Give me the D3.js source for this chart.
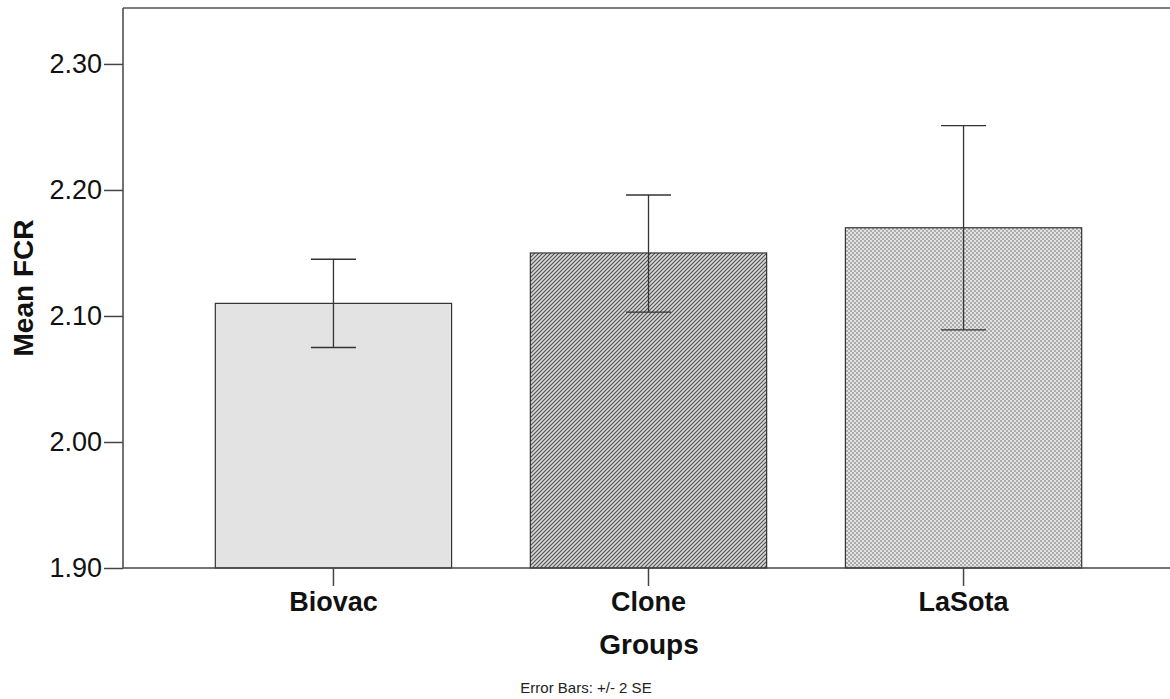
<!DOCTYPE html>
<html>
<head>
<meta charset="utf-8">
<script src="https://cdn.jsdelivr.net/npm/d3@7"></script>
<style>
  body { margin: 0; background: #fff; }
  svg { display: block; font-family: "Liberation Sans", Arial, sans-serif; }
</style>
</head>
<body>
<svg id="chart" width="1170" height="699"></svg>
<script>
// Mean FCR per vaccine group with +/- 2 SE error bars
const groups = ["Biovac", "Clone", "LaSota"];
const meanFCR = [2.11, 2.15, 2.17];
const errLow = [2.075, 2.103, 2.089];
const errHigh = [2.145, 2.196, 2.251];
const yTicks = [1.90, 2.00, 2.10, 2.20, 2.30];

const svg = d3.select("#chart");
const margin = { left: 123, top: 8, right: -4, bottom: 131 };
const W = 1170, H = 699;
const x0 = margin.left, x1 = W - margin.right;
const yTop = margin.top, yBot = H - margin.bottom;

const x = d3.scaleBand().domain(groups).range([x0, x1])
  .paddingInner(0.25).paddingOuter(0.293);
const y = d3.scaleLinear().domain([1.90, 2.3444]).range([yBot, yTop]);

// Fill patterns
const defs = svg.append("defs");
const hatch = defs.append("pattern").attr("id", "hatch")
  .attr("patternUnits", "userSpaceOnUse").attr("width", 4).attr("height", 4);
hatch.append("rect").attr("width", 4).attr("height", 4).attr("fill", "#dadada");
hatch.append("path").attr("d", "M-1,1 l2,-2 M0,4 l4,-4 M3,5 l2,-2")
  .attr("stroke", "#505050").attr("stroke-width", 1.15);

const dots = defs.append("pattern").attr("id", "dots")
  .attr("patternUnits", "userSpaceOnUse").attr("width", 4).attr("height", 4);
dots.append("rect").attr("width", 4).attr("height", 4).attr("fill", "#e4e4e4");
dots.append("rect").attr("x", 0).attr("y", 0).attr("width", 2).attr("height", 2).attr("fill", "#ababab");
dots.append("rect").attr("x", 2).attr("y", 2).attr("width", 2).attr("height", 2).attr("fill", "#ababab");

const fills = ["#e3e3e3", "url(#hatch)", "url(#dots)"];

// Bars
svg.append("g").selectAll("rect").data(groups).join("rect")
  .attr("x", d => x(d))
  .attr("y", (d, i) => y(meanFCR[i]))
  .attr("width", x.bandwidth())
  .attr("height", (d, i) => yBot - y(meanFCR[i]))
  .attr("fill", (d, i) => fills[i])
  .attr("stroke", "#333")
  .attr("stroke-width", 1.2);

// Error bars
const capHalf = 22.5;
const eb = svg.append("g").attr("stroke", "#333").attr("stroke-width", 1.3);
groups.forEach((g, i) => {
  const cx = x(g) + x.bandwidth() / 2;
  eb.append("line").attr("x1", cx).attr("x2", cx)
    .attr("y1", y(errLow[i])).attr("y2", y(errHigh[i]));
  eb.append("line").attr("x1", cx - capHalf).attr("x2", cx + capHalf)
    .attr("y1", y(errHigh[i])).attr("y2", y(errHigh[i]));
  eb.append("line").attr("x1", cx - capHalf).attr("x2", cx + capHalf)
    .attr("y1", y(errLow[i])).attr("y2", y(errLow[i]));
});

// Frame: top border
svg.append("line").attr("x1", x0).attr("x2", W).attr("y1", yTop).attr("y2", yTop)
  .attr("stroke", "#555").attr("stroke-width", 1.5);

// Y axis
const yAxis = svg.append("g").attr("transform", `translate(${x0},0)`)
  .call(d3.axisLeft(y).tickValues(yTicks).tickFormat(d3.format(".2f"))
    .tickSize(19).tickPadding(2));
yAxis.select(".domain").attr("d", `M0,${yTop}V${yBot}`);
yAxis.selectAll("line, .domain").attr("stroke", "#444").attr("stroke-width", 1.5);
yAxis.selectAll("text").attr("font-size", 27).attr("fill", "#111")
  .attr("font-family", "Liberation Sans, Arial, sans-serif");

// X axis
const xAxis = svg.append("g").attr("transform", `translate(0,${yBot})`)
  .call(d3.axisBottom(x).tickSize(18).tickPadding(6));
xAxis.select(".domain").attr("d", `M${x0},0H${W}`);
xAxis.selectAll("line, .domain").attr("stroke", "#444").attr("stroke-width", 1.5);
xAxis.selectAll("text").attr("font-size", 27).attr("font-weight", "bold")
  .attr("fill", "#111").attr("font-family", "Liberation Sans, Arial, sans-serif");

// Axis titles
svg.append("text").attr("x", 649).attr("y", 654).attr("text-anchor", "middle")
  .attr("font-size", 28).attr("font-weight", "bold").attr("fill", "#111").text("Groups");
svg.append("text").attr("transform", "translate(33,288) rotate(-90)")
  .attr("text-anchor", "middle").attr("font-size", 28).attr("font-weight", "bold")
  .attr("fill", "#111").text("Mean FCR");
svg.append("text").attr("x", 586).attr("y", 693).attr("text-anchor", "middle")
  .attr("font-size", 15).attr("fill", "#222").text("Error Bars: +/- 2 SE");
</script>
</body>
</html>
